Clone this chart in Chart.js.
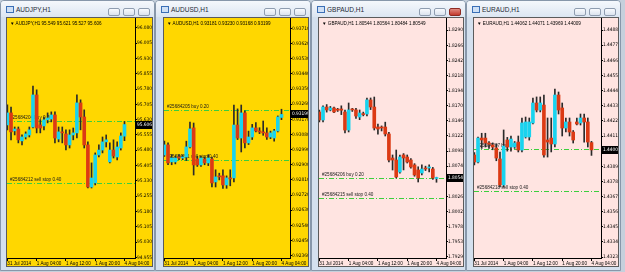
<!DOCTYPE html>
<html lang="en">
<head>
<meta charset="UTF-8">
<title>MT4 H1 charts</title>
<script src="https://cdn.jsdelivr.net/npm/chart.js@4.4.1/dist/chart.umd.min.js"></script>
<style>
    body {
        margin: 0;
        width: 625px;
        height: 272px;
        background: #c5d0dc;
        position: relative;
        overflow: hidden;
        font-family: "Liberation Sans", Arial, sans-serif;
    }
    .win {
        position: absolute;
        top: 0;
        width: 155px;
        height: 271px;
        box-sizing: border-box;
        background: #d4e0ee;
        border: 1px solid #8797aa;
        border-radius: 4px 4px 0 0;
    }
    .title {
        position: absolute;
        left: 0; right: 0; top: 0;
        height: 16px;
        background: linear-gradient(#f5f8fc, #dce6f2);
        border-radius: 3px 3px 0 0;
    }
    .title .ico {
        position: absolute;
        left: 5px; top: 5px;
        width: 6px; height: 5px;
        border: 1px solid #3b6fb6;
        background: #cfe0f5;
    }
    .title .txt {
        position: absolute;
        left: 15px; top: 5px;
        font-size: 6.5px;
        color: #1f2a36;
    }
    .btn {
        position: absolute;
        top: 7px;
        width: 12px; height: 8px;
        box-sizing: border-box;
        border: 1px solid #8f9db0;
        border-radius: 2px;
        background: linear-gradient(#f8fafd, #dbe3ee);
    }
    .btn.close-on { background: linear-gradient(#e08a80, #c33a2e); border-color: #8e2a22; }
    .box {
        position: absolute;
        top: 17px;
        height: 250px;
        box-sizing: border-box;
        border: 1px solid #5b5b5b;
    }
    .box canvas { position: absolute; left: 0; top: 0; }
    .hdr {
        position: absolute;
        left: 3px; top: 3px;
        font-size: 4.6px;
        color: #000;
        white-space: nowrap;
    }
</style>
</head>
<body>

<div class="win" style="left:0px"><div class="title"><div class="ico"></div><div class="txt">AUDJPY,H1</div>
    <div class="btn" style="left:107px"></div><div class="btn" style="left:122px"></div><div class="btn" style="left:137px"></div></div></div>
<div class="win" style="left:155px;width:156px"><div class="title"><div class="ico"></div><div class="txt">AUDUSD,H1</div>
    <div class="btn" style="left:108px"></div><div class="btn" style="left:123px"></div><div class="btn" style="left:138px"></div></div></div>
<div class="win" style="left:311px"><div class="title"><div class="ico"></div><div class="txt">GBPAUD,H1</div>
    <div class="btn" style="left:107px"></div><div class="btn" style="left:122px"></div><div class="btn close-on" style="left:137px"></div></div></div>
<div class="win" style="left:466px"><div class="title"><div class="ico"></div><div class="txt">EURAUD,H1</div>
    <div class="btn" style="left:107px"></div><div class="btn" style="left:122px"></div><div class="btn" style="left:137px"></div></div></div>

<div class="box" style="left:6px;width:147px;background:#ffd700"><canvas id="c1" width="145" height="248"></canvas><div class="hdr" id="h1"></div></div>
<div class="box" style="left:163px;width:146px;background:#ffd700"><canvas id="c2" width="144" height="248"></canvas><div class="hdr" id="h2"></div></div>
<div class="box" style="left:318px;width:146px;background:#ffe4e1"><canvas id="c3" width="144" height="248"></canvas><div class="hdr" id="h3"></div></div>
<div class="box" style="left:473px;width:146px;background:#ffe4e1"><canvas id="c4" width="144" height="248"></canvas><div class="hdr" id="h4"></div></div>

<script>
    // x axis: bar index 0 = 31 Jul 2014 20:00, one bar per hour
    const xTickIdx = [0, 8, 16, 24, 32];
    const xTickLabels = ['31 Jul 2014', '1 Aug 04:00', '1 Aug 12:00', '1 Aug 20:00', '4 Aug 04:00'];

    // AUDJPY,H1
    const audjpyOpen  = [95.604, 95.663, 95.575, 95.584, 95.526, 95.545, 95.555, 95.594, 95.751, 95.604, 95.599, 95.629, 95.633, 95.653, 95.535, 95.570, 95.560, 95.506, 95.555, 95.565, 95.712, 95.643, 95.506, 95.300, 95.320, 95.457, 95.481, 95.521, 95.423, 95.481, 95.447, 95.491, 95.549];
    const audjpyHigh  = [95.702, 95.692, 95.594, 95.594, 95.555, 95.570, 95.594, 95.795, 95.776, 95.629, 95.643, 95.663, 95.668, 95.668, 95.594, 95.594, 95.580, 95.580, 95.589, 95.751, 95.727, 95.678, 95.521, 95.418, 95.467, 95.506, 95.545, 95.555, 95.516, 95.531, 95.521, 95.565, 95.621];
    const audjpyLow   = [95.580, 95.531, 95.555, 95.516, 95.506, 95.535, 95.545, 95.589, 95.565, 95.565, 95.580, 95.614, 95.619, 95.516, 95.521, 95.516, 95.481, 95.491, 95.531, 95.540, 95.580, 95.491, 95.295, 95.295, 95.310, 95.447, 95.467, 95.496, 95.418, 95.442, 95.433, 95.481, 95.527];
    const audjpyClose = [95.663, 95.570, 95.584, 95.531, 95.545, 95.560, 95.580, 95.751, 95.589, 95.589, 95.629, 95.638, 95.653, 95.540, 95.570, 95.565, 95.506, 95.555, 95.565, 95.712, 95.643, 95.506, 95.300, 95.344, 95.457, 95.481, 95.521, 95.531, 95.481, 95.452, 95.496, 95.550, 95.606];
    const audjpyTicks = [96.080, 96.005, 95.930, 95.855, 95.780, 95.705, 95.630, 95.555, 95.480, 95.405, 95.330, 95.255, 95.180, 95.105, 95.030, 94.955];
    const audjpyOrderLevels = [95.624, 95.320];
    const audjpyOrderLabels = ['#25684204 buy 0.20', '#25684212 sell stop 0.40'];

    // AUDUSD,H1
    const audusdOpen  = [0.92958, 0.93018, 0.92917, 0.92917, 0.92946, 0.92940, 0.92946, 0.93006, 0.93119, 0.92934, 0.92899, 0.92934, 0.92911, 0.92934, 0.92798, 0.92834, 0.92834, 0.92780, 0.92822, 0.92822, 0.93136, 0.93059, 0.93208, 0.93030, 0.93065, 0.93119, 0.93101, 0.93095, 0.93089, 0.93065, 0.93059, 0.93101, 0.93181];
    const audusdHigh  = [0.93040, 0.93030, 0.92960, 0.92952, 0.92960, 0.92958, 0.93040, 0.93154, 0.93148, 0.92950, 0.92952, 0.92946, 0.92960, 0.92946, 0.92870, 0.92850, 0.92870, 0.92834, 0.92870, 0.93255, 0.93232, 0.93255, 0.93220, 0.93100, 0.93140, 0.93150, 0.93120, 0.93160, 0.93120, 0.93100, 0.93110, 0.93190, 0.93230];
    const audusdLow   = [0.92950, 0.92900, 0.92900, 0.92905, 0.92930, 0.92930, 0.92925, 0.93000, 0.92839, 0.92890, 0.92890, 0.92900, 0.92895, 0.92768, 0.92768, 0.92810, 0.92760, 0.92760, 0.92775, 0.92798, 0.93050, 0.92976, 0.93000, 0.93020, 0.93050, 0.93095, 0.93085, 0.93075, 0.93050, 0.93055, 0.93040, 0.93095, 0.93168];
    const audusdClose = [0.93018, 0.92911, 0.92940, 0.92940, 0.92940, 0.92946, 0.93006, 0.93113, 0.92899, 0.92899, 0.92940, 0.92911, 0.92940, 0.92792, 0.92828, 0.92828, 0.92780, 0.92822, 0.92816, 0.93136, 0.93059, 0.93208, 0.93030, 0.93065, 0.93119, 0.93101, 0.93095, 0.93089, 0.93065, 0.93089, 0.93101, 0.93184, 0.93199];
    const audusdTicks = [0.93710, 0.93620, 0.93530, 0.93440, 0.93350, 0.93260, 0.93170, 0.93080, 0.92990, 0.92900, 0.92810, 0.92720, 0.92630, 0.92540, 0.92450, 0.92360];
    const audusdOrderLevels = [0.93226, 0.92929];
    const audusdOrderLabels = ['#25684205 buy 0.20', '#25684211 sell stop 0.40'];

    // GBPAUD,H1
    const gbpaudOpen  = [1.81602, 1.81475, 1.81681, 1.81634, 1.81665, 1.81640, 1.81650, 1.81602, 1.81315, 1.81640, 1.81634, 1.81522, 1.81570, 1.81570, 1.81793, 1.81681, 1.81363, 1.81363, 1.81363, 1.81252, 1.80870, 1.80838, 1.80647, 1.80918, 1.80886, 1.80838, 1.80759, 1.80679, 1.80631, 1.80711, 1.80711, 1.80695, 1.80544];
    const gbpaudHigh  = [1.81634, 1.81700, 1.81720, 1.81690, 1.81680, 1.81660, 1.81700, 1.81634, 1.81745, 1.81660, 1.81660, 1.81634, 1.81600, 1.81825, 1.81825, 1.81840, 1.81410, 1.81380, 1.81440, 1.81280, 1.80918, 1.80997, 1.80918, 1.80940, 1.80918, 1.80860, 1.80780, 1.80730, 1.80760, 1.80740, 1.80760, 1.80720, 1.80564];
    const gbpaudLow   = [1.81443, 1.81443, 1.81600, 1.81620, 1.81590, 1.81610, 1.81560, 1.81268, 1.81284, 1.81610, 1.81500, 1.81480, 1.81540, 1.81540, 1.81640, 1.81315, 1.81250, 1.81300, 1.81220, 1.80806, 1.80679, 1.80552, 1.80630, 1.80680, 1.80790, 1.80710, 1.80580, 1.80488, 1.80600, 1.80670, 1.80650, 1.80530, 1.80484];
    const gbpaudClose = [1.81475, 1.81681, 1.81634, 1.81665, 1.81602, 1.81630, 1.81630, 1.81315, 1.81634, 1.81634, 1.81538, 1.81586, 1.81560, 1.81793, 1.81681, 1.81347, 1.81331, 1.81347, 1.81252, 1.80838, 1.80838, 1.80568, 1.80886, 1.80870, 1.80806, 1.80727, 1.80600, 1.80552, 1.80695, 1.80695, 1.80720, 1.80552, 1.80549];
    const gbpaudTicks = [1.82905, 1.82660, 1.82420, 1.82180, 1.81940, 1.81700, 1.81460, 1.81220, 1.80980, 1.80740, 1.80500, 1.80260, 1.80020, 1.79780, 1.79535, 1.79295];
    const gbpaudOrderLevels = [1.80548, 1.80229];
    const gbpaudOrderLabels = ['#25684206 buy 0.20', '#25684215 sell stop 0.40'];

    // EURAUD,H1
    const euraudOpen  = [1.43972, 1.43921, 1.44095, 1.44095, 1.44059, 1.44045, 1.44023, 1.43943, 1.43754, 1.44081, 1.44030, 1.44030, 1.44066, 1.44008, 1.44103, 1.44103, 1.44205, 1.44350, 1.44299, 1.44335, 1.44081, 1.44095, 1.44052, 1.44408, 1.44314, 1.44168, 1.44212, 1.44139, 1.44212, 1.44205, 1.44241, 1.44212, 1.44062];
    const euraudHigh  = [1.43990, 1.44103, 1.44130, 1.44130, 1.44070, 1.44060, 1.44050, 1.43994, 1.44154, 1.44100, 1.44110, 1.44070, 1.44110, 1.44241, 1.44248, 1.44241, 1.44386, 1.44394, 1.44394, 1.44408, 1.44241, 1.44241, 1.44452, 1.44430, 1.44350, 1.44241, 1.44241, 1.44150, 1.44241, 1.44270, 1.44270, 1.44241, 1.44071];
    const euraudLow   = [1.43900, 1.43914, 1.44020, 1.44030, 1.44020, 1.44010, 1.43930, 1.43739, 1.43739, 1.44000, 1.44000, 1.44020, 1.43994, 1.43994, 1.44095, 1.44080, 1.44197, 1.44285, 1.44285, 1.43957, 1.43957, 1.43994, 1.44030, 1.44270, 1.44110, 1.44139, 1.44110, 1.44059, 1.44190, 1.44190, 1.44066, 1.44030, 1.43969];
    const euraudClose = [1.43921, 1.44095, 1.44081, 1.44059, 1.44050, 1.44030, 1.43950, 1.43754, 1.44037, 1.44030, 1.44088, 1.44059, 1.44008, 1.44205, 1.44212, 1.44212, 1.44350, 1.44299, 1.44350, 1.43972, 1.44066, 1.44052, 1.44408, 1.44299, 1.44168, 1.44212, 1.44139, 1.44081, 1.44197, 1.44241, 1.44212, 1.44066, 1.44009];
    const euraudTicks = [1.44880, 1.44770, 1.44660, 1.44550, 1.44440, 1.44330, 1.44220, 1.44110, 1.44000, 1.43890, 1.43780, 1.43670, 1.43560, 1.43450, 1.43340, 1.43230];
    const euraudOrderLevels = [1.44013, 1.43710];
    const euraudOrderLabels = ['#25684207 buy 0.20', '#25684218 sell stop 0.40'];

    const FONT = '"Liberation Sans", Arial, sans-serif';
    const AXIS_FONT = '"Liberation Sans Narrow", "DejaVu Sans Condensed", "Liberation Sans", sans-serif';
    const BULL = '#19d3ee';
    const BEAR = '#dc3a14';
    const ORDER_COLOR = '#3ccf3c';

    // trade lines + labels, drawn under the candles
    const orderLines = {
        id: 'orderLines',
        beforeDatasetsDraw(chart, args, opts) {
            const { ctx, chartArea } = chart;
            const y = chart.scales.y;
            ctx.save();
            ctx.font = '4.6px ' + FONT;
            opts.levels.forEach((lv, i) => {
                const py = Math.round(y.getPixelForValue(lv)) + 0.5;
                ctx.strokeStyle = ORDER_COLOR;
                ctx.lineWidth = 1;
                ctx.setLineDash([5, 2, 1, 2]);
                ctx.beginPath();
                ctx.moveTo(chartArea.left, py);
                ctx.lineTo(chartArea.right, py);
                ctx.stroke();
                ctx.fillStyle = '#1a1a1a';
                ctx.textBaseline = 'bottom';
                ctx.fillText(opts.labels[i], chartArea.left + 3, py - 1);
            });
            ctx.restore();
        }
    };

    // black bid box on the price scale
    const priceBox = {
        id: 'priceBox',
        afterDraw(chart, args, opts) {
            const { ctx, chartArea } = chart;
            const py = Math.round(chart.scales.y.getPixelForValue(opts.value));
            ctx.save();
            ctx.fillStyle = '#000';
            ctx.fillRect(chartArea.right, py - 4, chart.width - chartArea.right, 8);
            ctx.fillStyle = '#fff';
            ctx.font = '4.8px ' + AXIS_FONT;
            ctx.textBaseline = 'middle';
            ctx.fillText(opts.value.toFixed(opts.dec), chartArea.right + 2, py);
            ctx.restore();
        }
    };

    function buildPanel(id, hdrId, symbol, open, high, low, close, ticks, levels, labels, dec, yMin, yMax, axisW) {
        const idx = open.map((_, i) => i);
        const last = open.length - 1;
        document.getElementById(hdrId).textContent =
            '\u25BC ' + symbol + ',H1  ' + [open[last], high[last], low[last], close[last]].map(v => v.toFixed(dec)).join(' ');

        const canvas = document.getElementById(id);
        const plotW = canvas.width - axisW;
        const xMin = -0.1;
        const xMax = xMin + plotW / 3.66;

        new Chart(canvas, {
            type: 'bar',
            data: {
                datasets: [
                    {
                        data: idx.map(i => ({ x: i, y: [open[i], close[i]] })),
                        backgroundColor: idx.map(i => close[i] >= open[i] ? BULL : BEAR),
                        barThickness: 3,
                        minBarLength: 1,
                        grouped: false,
                        order: 0
                    },
                    {
                        data: idx.map(i => ({ x: i, y: [low[i], high[i]] })),
                        backgroundColor: '#2a2a2a',
                        barThickness: 1,
                        grouped: false,
                        order: 1
                    }
                ]
            },
            options: {
                responsive: false,
                animation: false,
                events: [],
                layout: { padding: 0 },
                plugins: {
                    legend: { display: false },
                    tooltip: { enabled: false },
                    orderLines: { levels: levels, labels: labels },
                    priceBox: { value: close[last], dec: dec }
                },
                scales: {
                    x: {
                        type: 'linear',
                        min: xMin,
                        max: xMax,
                        offset: false,
                        grid: { display: true, drawOnChartArea: false, offset: false, tickLength: 3, color: '#000' },
                        border: { color: '#000' },
                        afterBuildTicks: s => { s.ticks = xTickIdx.map(v => ({ value: v })); },
                        afterFit: s => { s.height = 8; s.paddingLeft = 0; s.paddingRight = 0; },
                        ticks: {
                            autoSkip: false, maxRotation: 0, minRotation: 0, align: 'start', padding: 0,
                            color: '#000', font: { size: 4.6, family: FONT },
                            callback: (v, i) => xTickLabels[i]
                        }
                    },
                    y: {
                        position: 'right',
                        min: yMin,
                        max: yMax,
                        grid: { display: true, drawOnChartArea: false, tickLength: 2, color: '#000' },
                        border: { color: '#000' },
                        afterBuildTicks: s => { s.ticks = ticks.map(v => ({ value: v })); },
                        afterFit: s => { s.width = axisW; s.paddingTop = 0; s.paddingBottom = 0; },
                        ticks: {
                            padding: 0, color: '#000', font: { size: 4.8, family: AXIS_FONT },
                            callback: v => v.toFixed(dec)
                        }
                    }
                }
            },
            plugins: [orderLines, priceBox]
        });
    }

    buildPanel('c1', 'h1', 'AUDJPY', audjpyOpen, audjpyHigh, audjpyLow, audjpyClose, audjpyTicks, audjpyOrderLevels, audjpyOrderLabels, 3, 94.952, 96.128, 17);
    buildPanel('c2', 'h2', 'AUDUSD', audusdOpen, audusdHigh, audusdLow, audusdClose, audusdTicks, audusdOrderLevels, audusdOrderLabels, 5, 0.92346, 0.93772, 18);
    buildPanel('c3', 'h3', 'GBPAUD', gbpaudOpen, gbpaudHigh, gbpaudLow, gbpaudClose, gbpaudTicks, gbpaudOrderLevels, gbpaudOrderLabels, 5, 1.79279, 1.83097, 17);
    buildPanel('c4', 'h4', 'EURAUD', euraudOpen, euraudHigh, euraudLow, euraudClose, euraudTicks, euraudOrderLevels, euraudOrderLabels, 5, 1.43223, 1.44968, 17);
</script>
</body>
</html>
